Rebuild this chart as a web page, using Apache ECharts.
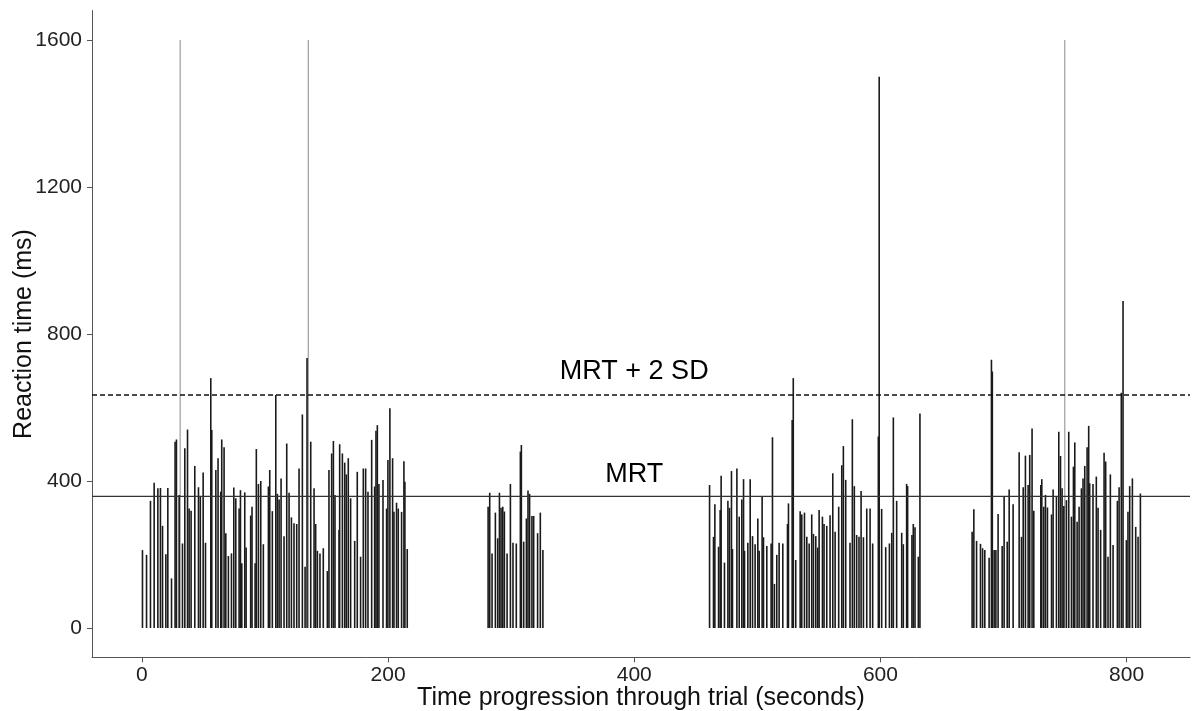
<!DOCTYPE html>
<html>
<head>
<meta charset="utf-8">
<script src="https://cdn.jsdelivr.net/npm/echarts@6/dist/echarts.min.js"></script>
<style>html,body{margin:0;padding:0;background:#fff}#c{width:1198px;height:711px}</style>
</head>
<body>
<div id="c"></div>
<script>
// ---- data ----
const block1 = [
[0.5,212],[3.8,199],[7.0,346],[10.0,395],[13.0,380],[15.1,381],[16.8,278],[19.5,201],[21.1,381],[24.1,135],
[27.0,507],[28.1,513],[30.3,362],[33.0,230],[34.9,489],[37.1,540],[38.4,325],[40.0,319],[43.0,441],[46.0,383],
[47.5,357],[49.8,423],[51.7,232],[56.0,680],[56.8,539],[60.1,430],[61.9,462],[64.1,371],[64.9,513],[66.8,492],
[68.2,258],[70.3,196],[72.8,203],[74.7,382],[76.3,353],[79.0,325],[80.1,375],[81.2,176],[83.6,369],[84.7,219],
[88.4,306],[89.5,330],[92.0,176],[93.0,487],[94.7,392],[96.6,400],[98.7,228],[102.8,385],[103.9,430],[106.0,318],
[108.8,634],[110.1,365],[111.5,350],[113.1,407],[115.5,250],[117.7,502],[119.6,368],[121.5,301],[123.6,285],[125.8,283],
[127.7,434],[130.4,581],[132.6,167],[134.2,735],[137.2,507],[139.9,380],[141.2,283],[142.6,210],[144.7,203],[147.4,217],
[150.7,155],[152.0,430],[154.2,475],[155.6,509],[156.9,362],[160.2,267],[160.7,500],[162.9,475],[164.8,450],[166.1,418],
[167.7,462],[169.6,353],[172.9,237],[175.0,425],[177.7,194],[179.9,434],[181.8,434],[183.7,371],[186.7,512],[189.1,385],
[190.2,537],[191.3,552],[192.6,392],[195.9,403],[198.8,325],[199.9,457],[201.5,598],[203.7,462],[204.8,316],[206.9,341],
[208.3,325],[211.0,316],[212.9,454],[213.7,398],[215.6,215]
];
const block2 = [
[281.3,330],[282.6,368],[284.5,203],[287.2,314],[289.1,244],[290.5,368],[291.8,327],[293.2,330],[294.5,317],[296.7,203],
[299.4,392],[301.5,232],[304.2,230],[307.5,480],[308.3,498],[310.2,235],[312.4,298],[313.7,374],[315.0,365],[316.9,305],
[318.3,305],[321.5,258],[323.7,314],[325.8,212]
];
const block3 = [
[461.2,389],[464.4,248],[465.5,337],[468.5,221],[469.8,321],[470.6,414],[473.3,178],[476.1,346],[477.4,327],[479.0,427],
[479.8,215],[483.4,434],[485.3,303],[487.4,350],[488.8,405],[489.6,210],[492.3,232],[494.2,405],[496.1,250],[498.2,228],
[500.4,298],[501.5,210],[503.9,357],[505.0,247],[507.7,223],[511.2,230],[512.3,519],[513.9,120],[515.8,199],[517.7,232],
[520.7,230],[524.5,283],[525.3,339],[528.3,566],[529.2,680],[531.2,185],[534.8,318],[536.1,309],[538.3,314],[540.2,248],
[542.1,230],[544.2,309],[545.6,256],[547.5,250],[549.1,219],[550.2,321],[552.9,303],[554.2,283],[556.4,278],[559.1,307],
[561.3,421],[563.2,262],[566.1,330],[568.6,443],[569.9,495],[571.8,403],[575.3,232],[577.2,568],[578.8,386],[580.7,253],
[582.6,248],[584.3,373],[586.2,247],[588.9,325],[591.6,325],[593.7,230],[598.3,521],[599.0,1500],[601.0,324],[604.3,220],
[607.3,230],[609.2,259],[610.5,573],[613.2,346],[617.3,259],[618.6,228],[621.3,392],[622.1,386],[625.6,253],[626.7,283],
[628.1,274],[630.8,194],[632.1,584]
];
const block4 = [
[674.5,262],[675.9,323],[678.1,237],[681.3,229],[683.0,217],[684.8,212],[688.3,191],[690.2,730],[690.9,698],[692.4,212],
[693.8,212],[695.6,310],[698.9,223],[700.5,357],[703.0,235],[704.6,377],[707.8,337],[712.7,478],[714.6,248],[716.0,383],
[717.8,469],[720.0,389],[721.3,471],[723.2,543],[724.6,319],[730.3,389],[731.1,405],[732.7,330],[734.1,362],[735.7,328],
[739.0,309],[740.3,377],[743.0,357],[744.9,534],[746.3,468],[747.6,380],[749.0,332],[751.1,348],[753.0,534],[755.2,303],
[756.8,439],[757.9,505],[759.8,289],[761.4,330],[763.3,380],[764.6,407],[766.0,441],[767.9,492],[769.2,550],[770.0,394],
[772.7,392],[775.4,412],[776.8,327],[778.9,267],[781.7,477],[783.0,453],[784.9,194],[786.8,418],[789.0,226],[792.5,346],
[793.9,383],[795.7,640],[797.1,890],[799.8,239],[801.1,316],[802.5,386],[804.7,407],[807.4,275],[809.3,248],[811.2,366]
];
const lapses = [[31.1,1600],[135.2,1600],[749.8,1600]];
const mrt = 358;
const mrt2sd = 634;
const xTicks = [0, 200, 400, 600, 800];
const yTicks = [0, 400, 800, 1200, 1600];
const annotX = [400, 400];
const annotY = [697, 418];
const annotText = ['MRT + 2 SD', 'MRT'];

// ---- chart ----
const xMin = -40.5, xMax = 851.5, yMin = -80, yMax = 1680;
const FONT = 'Liberation Sans, Arial, Helvetica, sans-serif';
const trials = block1.concat(block2, block3, block4);

function stick(color, width) {
  return function (params, api) {
    const x = api.value(0), v = api.value(1);
    const p0 = api.coord([x, 0]);
    const p1 = api.coord([x, v]);
    return { type: 'line', shape: { x1: p0[0], y1: p0[1], x2: p1[0], y2: p1[1] },
             style: { stroke: color, lineWidth: width } };
  };
}

const chart = echarts.init(document.getElementById('c'), null, { renderer: 'canvas' });
chart.setOption({
  animation: false,
  backgroundColor: '#fff',
  textStyle: { fontFamily: FONT },
  grid: { left: 92, right: 8, top: 10.6, bottom: 53.6, containLabel: false, outerBoundsMode: 'none' },
  xAxis: {
    type: 'value', min: xMin, max: xMax,
    name: 'Time progression through trial (seconds)', nameLocation: 'middle', nameGap: 28,
    nameMoveOverlap: false,
    nameTextStyle: { fontSize: 25, color: '#111', fontFamily: FONT },
    axisLine: { show: true, onZero: false, lineStyle: { color: '#555', width: 1 } },
    axisTick: { show: true, length: 5, customValues: xTicks, lineStyle: { color: '#555' } },
    axisLabel: { customValues: xTicks, fontSize: 21, color: '#222', margin: 7, fontFamily: FONT,
                 formatter: v => String(v) },
    splitLine: { show: false }
  },
  yAxis: {
    type: 'value', min: yMin, max: yMax,
    name: 'Reaction time (ms)', nameLocation: 'middle', nameGap: 55,
    nameMoveOverlap: false,
    nameTextStyle: { fontSize: 25, color: '#111', fontFamily: FONT },
    axisLine: { show: true, onZero: false, lineStyle: { color: '#555', width: 1 } },
    axisTick: { show: true, length: 5, customValues: yTicks, lineStyle: { color: '#555' } },
    axisLabel: { customValues: yTicks, fontSize: 21, color: '#222', margin: 10, fontFamily: FONT,
                 formatter: v => String(v) },
    splitLine: { show: false }
  },
  series: [
    { type: 'custom', renderItem: stick('#8a8a8a', 1), data: lapses, encode: { x: 0, y: 1 }, z: 1 },
    { type: 'custom', renderItem: stick('#1a1a1a', 1.6), data: trials, encode: { x: 0, y: 1 }, z: 2 },
    { type: 'line', data: [[xMin, mrt], [xMax, mrt]], symbol: 'none', z: 3,
      lineStyle: { color: '#333', width: 1.3 } },
    { type: 'line', data: [[xMin, mrt2sd], [xMax, mrt2sd]], symbol: 'none', z: 3,
      lineStyle: { color: '#111', width: 1.3, type: [5, 3] } },
    { type: 'scatter', symbolSize: 0, z: 4, itemStyle: { opacity: 1 },
      data: annotText.map((t, i) => ({ value: [annotX[i], annotY[i]], name: t })),
      label: { show: true, position: 'inside', formatter: p => p.name, opacity: 1,
               fontSize: 27, color: '#000', fontFamily: FONT, textBorderWidth: 0 } }
  ]
});
</script>
</body>
</html>
